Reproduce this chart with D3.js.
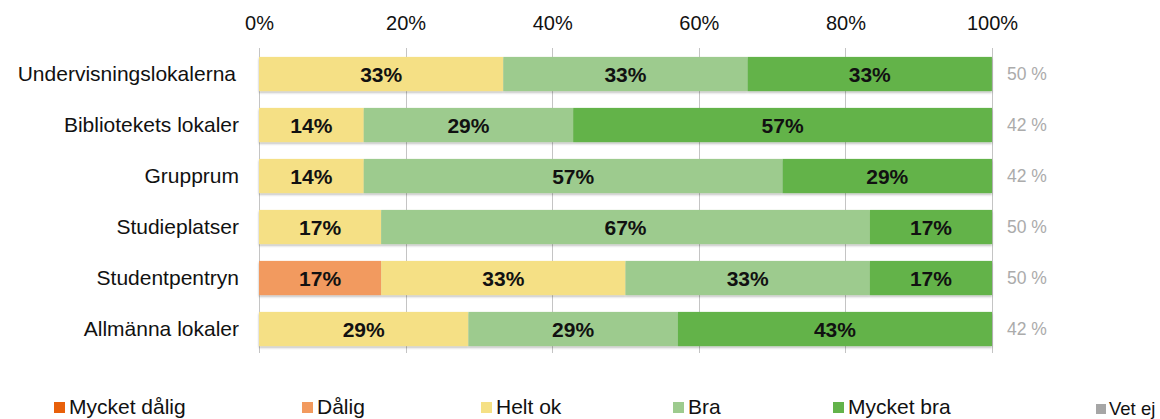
<!DOCTYPE html>
<html><head><meta charset="utf-8">
<script src="https://cdn.jsdelivr.net/npm/d3@7"></script>
<style>body{margin:0;background:#fff}svg{display:block}</style>
</head><body><svg id="c" width="1160" height="419"></svg>
<script>
const categories = ["Undervisningslokalerna","Bibliotekets lokaler","Grupprum","Studieplatser","Studentpentryn","Allmänna lokaler"];
const seriesNames = ["Mycket dålig","Dålig","Helt ok","Bra","Mycket bra","Vet ej"];
const seriesColors = ["#E8600A","#F29A5E","#F5E085","#9DCB8E","#63B34A","#A6A6A6"];
const mycketDalig = [0,0,0,0,0,0];
const dalig      = [0,0,0,0,16.67,0];
const heltOk     = [33.33,14.29,14.29,16.67,33.33,28.57];
const bra        = [33.33,28.57,57.14,66.67,33.33,28.57];
const mycketBra  = [33.33,57.14,28.57,16.67,16.67,42.86];
const vetEj      = [0,0,0,0,0,0];
const responseRate = ["50 %","42 %","42 %","50 %","50 %","42 %"];
const xTicks = [0,20,40,60,80,100];

const series = [mycketDalig,dalig,heltOk,bra,mycketBra,vetEj];
const svg = d3.select("#c");
const font = "'Liberation Sans', Arial, sans-serif";
const x = d3.scaleLinear().domain([0,100]).range([259,992]);
const y = d3.scaleBand().domain(categories).range([48.5,354.5]).paddingInner(0.33).paddingOuter(0.165);

const defs = svg.append("defs");
const f = defs.append("filter").attr("id","sh").attr("x","-5%").attr("y","-20%").attr("width","110%").attr("height","160%");
f.append("feDropShadow").attr("dx",0).attr("dy",1.5).attr("stdDeviation",1).attr("flood-color","#000").attr("flood-opacity",0.3);

// gridlines
svg.append("g").selectAll("line").data(xTicks).join("line")
  .attr("x1",d=>Math.round(x(d))+0.5).attr("x2",d=>Math.round(x(d))+0.5)
  .attr("y1",48).attr("y2",353)
  .attr("stroke","#c4c4c4").attr("stroke-width",1);

// axis labels top
const ax = d3.axisTop(x).tickValues(xTicks).tickFormat(d=>d+"%").tickSize(0).tickPadding(0);
const axg = svg.append("g").attr("transform","translate(0,30)").call(ax);
axg.select(".domain").remove();
axg.selectAll("text").attr("font-family",font).attr("font-size",20).attr("fill","#111");

// bars
const rows = categories.map((c,i)=>{
  let acc=0;
  return series.map((s,k)=>{const v=s[i]; const seg={cat:c,k,v,x0:acc,x1:acc+v}; acc+=v; return seg;});
});
const g = svg.append("g");
rows.forEach(r=>{
  const row = g.append("g").attr("filter","url(#sh)");
  row.selectAll("rect").data(r.filter(d=>d.v>0)).join("rect")
    .attr("x",d=>x(d.x0)).attr("width",d=>x(d.x1)-x(d.x0))
    .attr("y",d=>y(d.cat)).attr("height",y.bandwidth())
    .attr("fill",d=>seriesColors[d.k]);
});
rows.forEach(r=>{
  g.append("g").selectAll("text").data(r.filter(d=>d.v>0)).join("text")
    .attr("x",d=>(x(d.x0)+x(d.x1))/2).attr("y",d=>y(d.cat)+y.bandwidth()/2)
    .attr("dy","0.36em").attr("text-anchor","middle")
    .attr("font-family",font).attr("font-weight","bold").attr("font-size",21).attr("fill","#111")
    .text(d=>Math.round(d.v)+"%");
});

// category labels
svg.append("g").selectAll("text").data(categories).join("text")
  .attr("x",(d,i)=>i===0?236:239).attr("y",d=>y(d)+y.bandwidth()/2).attr("dy","0.34em")
  .attr("text-anchor","end").attr("font-family",font).attr("font-size",21).attr("fill","#111")
  .text(d=>d);

// response rate
svg.append("g").selectAll("text").data(responseRate).join("text")
  .attr("x",1007).attr("y",(d,i)=>y(categories[i])+y.bandwidth()/2).attr("dy","0.36em")
  .attr("font-family",font).attr("font-size",17.5).attr("fill","#ababab")
  .text(d=>d);

// legend
const legX = [54,302,481,673,833,1096];
const leg = svg.append("g").selectAll("g").data(seriesNames).join("g")
  .attr("transform",(d,i)=>`translate(${legX[i]},0)`);
leg.append("rect").attr("x",0).attr("y",(d,i)=>i===5?404:402).attr("width",(d,i)=>i===5?10:11).attr("height",(d,i)=>i===5?10:11)
  .attr("fill",(d,i)=>seriesColors[i]);
leg.append("text").attr("x",(d,i)=>i===5?13:15).attr("y",(d,i)=>i===5?415:414)
  .attr("font-family",font).attr("font-size",(d,i)=>i===5?18.5:21).attr("fill","#111")
  .text(d=>d);
</script></body></html>
